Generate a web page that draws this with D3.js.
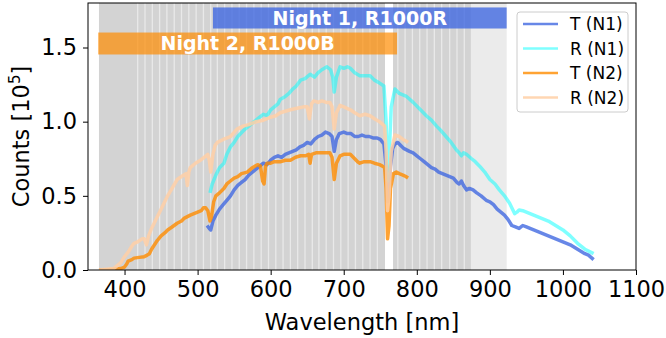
<!DOCTYPE html>
<html>
<head>
<meta charset="utf-8">
<script src="https://cdn.jsdelivr.net/npm/d3@7"></script>
<style>
  body { margin: 0; background: #fff; }
  svg { display: block; font-family: "DejaVu Sans", sans-serif; }
</style>
</head>
<body>
<div id="chart"></div>
<script>
// ---- data (wavelength in nm, counts in 1e5) ----
const xTicks = [400, 500, 600, 700, 800, 900, 1000, 1100];
const yTicks = [0.0, 0.5, 1.0, 1.5];

// wavelength coverage of the two nights
const nightRanges = [
  { label: 'Night 1, R1000R', lo: 521, hi: 923 },
  { label: 'Night 2, R1000B', lo: 364, hi: 773 }
];

// shaded spectroscopic bins
const coverSpans = [[365, 756.5], [767.5, 923]];
const binSpans = [[365, 756.5], [767.5, 874]];
const binEdges = [418, 428, 438, 448, 458, 468, 478, 488, 498, 508, 518, 527, 537, 547, 557, 567, 577,
  587, 597, 607, 617, 627, 637, 647, 657, 666, 676, 686, 696, 706, 716, 726, 736, 746,
  774, 784, 794, 804, 814, 824, 834, 845, 855, 865];

const t1Wave = [513, 516, 518, 521, 525, 530, 535, 540, 545, 550, 555, 560, 565, 570, 575, 580, 585, 590, 595,
  600, 605, 610, 615, 620, 625, 630, 635, 640, 645, 650, 655, 660, 665, 670, 675, 680, 684, 687, 690, 694,
  700, 705, 710, 715, 720, 725, 730, 735, 740, 745, 750, 755, 758, 760, 762, 764, 767, 770, 774, 778, 782,
  786, 790, 795, 800, 805, 810, 815, 820, 825, 830, 835, 840, 845, 850, 855, 858, 861, 864, 868, 872, 877,
  882, 888, 895, 900, 905, 910, 915, 920, 925, 930, 935, 940, 945, 950, 960, 970, 980, 990, 1000, 1010,
  1020, 1030, 1035, 1042];
const t1Counts = [0.30, 0.28, 0.27, 0.33, 0.37, 0.41, 0.44, 0.47, 0.50, 0.54, 0.57, 0.59, 0.61, 0.64, 0.66,
  0.68, 0.70, 0.72, 0.71, 0.74, 0.76, 0.77, 0.76, 0.78, 0.79, 0.80, 0.81, 0.83, 0.84, 0.86, 0.85, 0.88, 0.90,
  0.91, 0.93, 0.92, 0.90, 0.80, 0.88, 0.92, 0.93, 0.92, 0.92, 0.90, 0.90, 0.91, 0.90, 0.90, 0.89, 0.89, 0.88,
  0.85, 0.70, 0.46, 0.52, 0.70, 0.82, 0.85, 0.86, 0.84, 0.82, 0.81, 0.80, 0.79, 0.77, 0.75, 0.73, 0.71, 0.69,
  0.68, 0.66, 0.65, 0.64, 0.63, 0.62, 0.59, 0.58, 0.60, 0.57, 0.54, 0.55, 0.54, 0.52, 0.50, 0.47, 0.46, 0.44,
  0.41, 0.39, 0.37, 0.34, 0.30, 0.29, 0.28, 0.30, 0.29, 0.27, 0.25, 0.23, 0.21, 0.19, 0.17, 0.14, 0.11, 0.10,
  0.07];

const r1Wave = [517, 520, 525, 530, 536, 540, 545, 550, 555, 559, 565, 570, 575, 580, 585, 590, 595, 600, 605,
  610, 613, 620, 625, 630, 635, 641, 647, 654, 660, 665, 670, 677, 682, 685, 687, 690, 695, 700, 705, 709,
  715, 722, 728, 736, 742, 749, 755, 758, 760, 762, 765, 770, 776, 786, 795, 805, 813, 820, 827, 833, 840,
  847, 854, 858, 861, 864, 868, 875, 880, 886, 893, 900, 907, 913, 920, 927, 931, 934, 937, 940, 945, 950,
  960, 970, 980, 990, 1000, 1010, 1020, 1030, 1042];
const r1Counts = [0.52, 0.58, 0.64, 0.69, 0.72, 0.78, 0.83, 0.86, 0.90, 0.92, 0.95, 0.97, 0.99, 1.01, 1.03,
  1.05, 1.04, 1.08, 1.10, 1.12, 1.15, 1.17, 1.19, 1.22, 1.24, 1.28, 1.29, 1.32, 1.30, 1.33, 1.35, 1.37, 1.35,
  1.30, 1.20, 1.30, 1.37, 1.36, 1.37, 1.36, 1.33, 1.31, 1.31, 1.31, 1.28, 1.26, 1.24, 1.00, 0.60, 0.75, 1.10,
  1.22, 1.19, 1.17, 1.13, 1.08, 1.04, 1.01, 0.97, 0.94, 0.90, 0.86, 0.81, 0.79, 0.77, 0.79, 0.78, 0.75, 0.73,
  0.70, 0.66, 0.61, 0.58, 0.54, 0.50, 0.45, 0.41, 0.38, 0.39, 0.405, 0.40, 0.39, 0.37, 0.35, 0.33, 0.30, 0.27,
  0.23, 0.18, 0.14, 0.11];

const t2Wave = [365, 375, 385, 395, 400, 403, 405, 410, 413, 420, 427, 431, 434, 437, 441, 445, 450, 455, 459,
  465, 472, 478, 482, 486, 490, 495, 500, 505, 508, 511, 514, 517, 519, 522, 525, 530, 536, 540, 545, 550,
  555, 560, 568, 575, 582, 586, 589, 591, 593, 595, 600, 605, 613, 620, 627, 634, 641, 648, 652, 654, 656,
  662, 668, 675, 681, 684, 687, 690, 695, 700, 705, 709, 715, 719, 722, 728, 736, 742, 749, 753, 756, 758,
  760, 762, 764, 768, 772, 776, 781, 785, 788];
const t2Counts = [0.0, 0.0, 0.005, 0.01, 0.02, 0.04, 0.06, 0.07, 0.08, 0.085, 0.09, 0.10, 0.11, 0.14, 0.17,
  0.20, 0.23, 0.25, 0.27, 0.29, 0.315, 0.33, 0.35, 0.36, 0.37, 0.38, 0.39, 0.40, 0.42, 0.42, 0.40, 0.33, 0.36,
  0.46, 0.50, 0.52, 0.55, 0.58, 0.60, 0.62, 0.63, 0.65, 0.66, 0.69, 0.71, 0.70, 0.60, 0.58, 0.70, 0.72, 0.72,
  0.73, 0.73, 0.74, 0.74, 0.76, 0.77, 0.77, 0.78, 0.72, 0.78, 0.79, 0.79, 0.79, 0.79, 0.76, 0.61, 0.72, 0.77,
  0.78, 0.78, 0.78, 0.75, 0.73, 0.72, 0.73, 0.73, 0.72, 0.71, 0.70, 0.69, 0.55, 0.21, 0.30, 0.55, 0.65, 0.66,
  0.65, 0.64, 0.63, 0.62];

const r2Wave = [365, 375, 385, 390, 395, 400, 405, 410, 413, 418, 424, 427, 430, 433, 437, 441, 445, 450, 455,
  459, 465, 472, 478, 484, 486, 488, 490, 497, 504, 509, 514, 516, 518, 521, 524, 527, 535, 545, 554, 562,
  570, 580, 590, 600, 607, 613, 620, 627, 636, 645, 650, 653, 656, 659, 665, 670, 676, 681, 684, 687, 690,
  695, 700, 709, 715, 722, 729, 736, 742, 749, 756, 758, 760, 762, 765, 770, 776, 781, 785, 788];
const r2Counts = [0.0, 0.005, 0.01, 0.03, 0.05, 0.09, 0.12, 0.16, 0.18, 0.19, 0.21, 0.21, 0.17, 0.23, 0.28,
  0.32, 0.36, 0.41, 0.46, 0.50, 0.55, 0.61, 0.63, 0.65, 0.57, 0.66, 0.69, 0.72, 0.74, 0.76, 0.78, 0.74, 0.66,
  0.78, 0.84, 0.86, 0.88, 0.90, 0.95, 0.97, 0.98, 1.00, 1.01, 1.03, 1.04, 1.06, 1.07, 1.08, 1.09, 1.10, 1.10,
  1.02, 1.12, 1.14, 1.13, 1.14, 1.13, 1.13, 1.10, 0.95, 1.06, 1.11, 1.10, 1.08, 1.06, 1.04, 1.05, 1.04, 1.02,
  1.00, 0.97, 0.80, 0.40, 0.50, 0.80, 0.91, 0.90, 0.88, 0.87, 0.86];

const series = [
  { name: 'T (N1)', wave: t1Wave, counts: t1Counts, color: 'royalblue', opacity: 0.8 },
  { name: 'R (N1)', wave: r1Wave, counts: r1Counts, color: 'cyan', opacity: 0.5 },
  { name: 'T (N2)', wave: t2Wave, counts: t2Counts, color: 'darkorange', opacity: 0.8 },
  { name: 'R (N2)', wave: r2Wave, counts: r2Counts, color: '#ffcfa6', opacity: 0.85 }
];

// ---- layout ----
const W = 666, H = 338;
const margin = { top: 3, right: 30, bottom: 68, left: 88 };
const width = W - margin.left - margin.right;
const height = H - margin.top - margin.bottom;

const svg = d3.select('#chart').append('svg')
  .attr('width', W)
  .attr('height', H);
const g = svg.append('g')
  .attr('transform', 'translate(' + margin.left + ',' + margin.top + ')');

const x = d3.scaleLinear().domain([350, 1100]).range([0, width]);
const y = d3.scaleLinear().domain([0, 1.8]).range([height, 0]);

g.append('clipPath').attr('id', 'clip')
  .append('rect').attr('width', width).attr('height', height);

const plot = g.append('g').attr('clip-path', 'url(#clip)');

// shaded regions
plot.selectAll('rect.cover').data(coverSpans).enter().append('rect')
  .attr('class', 'cover')
  .attr('x', d => x(d[0])).attr('width', d => x(d[1]) - x(d[0]))
  .attr('y', 0).attr('height', height)
  .attr('fill', '#ebebeb');
plot.selectAll('rect.bin').data(binSpans).enter().append('rect')
  .attr('class', 'bin')
  .attr('x', d => x(d[0])).attr('width', d => x(d[1]) - x(d[0]))
  .attr('y', 0).attr('height', height)
  .attr('fill', '#d3d3d3');
plot.selectAll('line.edge').data(binEdges).enter().append('line')
  .attr('class', 'edge')
  .attr('x1', d => x(d)).attr('x2', d => x(d))
  .attr('y1', 0).attr('y2', height)
  .attr('stroke', '#e9e9e9').attr('stroke-width', 1.3);

// spectra
const line = d3.line().x(d => x(d[0])).y(d => y(d[1]));
series.forEach(s => {
  plot.append('path')
    .datum(d3.zip(s.wave, s.counts))
    .attr('d', line)
    .attr('fill', 'none')
    .attr('stroke', s.color)
    .attr('stroke-opacity', s.opacity)
    .attr('stroke-width', 3.5)
    .attr('stroke-linejoin', 'round');
});

// night labels
const boxes = [
  { night: nightRanges[0], top: 1.77, bottom: 1.628, color: 'royalblue', opacity: 0.8 },
  { night: nightRanges[1], top: 1.601, bottom: 1.453, color: 'darkorange', opacity: 0.7 }
];
boxes.forEach(b => {
  plot.append('rect')
    .attr('x', x(b.night.lo)).attr('width', x(b.night.hi) - x(b.night.lo))
    .attr('y', y(b.top)).attr('height', y(b.bottom) - y(b.top))
    .attr('fill', b.color).attr('fill-opacity', b.opacity);
  plot.append('text')
    .attr('x', (x(b.night.lo) + x(b.night.hi)) / 2)
    .attr('y', (y(b.top) + y(b.bottom)) / 2)
    .attr('dy', '0.36em')
    .attr('text-anchor', 'middle')
    .attr('font-size', 19).attr('font-weight', 'bold')
    .attr('fill', '#fff')
    .text(b.night.label);
});

// axes
const xAxis = g.append('g')
  .attr('transform', 'translate(0,' + height + ')')
  .call(d3.axisBottom(x).tickValues(xTicks).tickSize(5).tickPadding(6).tickFormat(d3.format('d')));
const yAxis = g.append('g')
  .call(d3.axisLeft(y).tickValues(yTicks).tickSize(5).tickPadding(6).tickFormat(d3.format('.1f')));
[xAxis, yAxis].forEach(a => {
  a.select('.domain').remove();
  a.selectAll('text').attr('font-size', 22.5).attr('font-family', '"DejaVu Sans", sans-serif').attr('fill', '#000');
  a.selectAll('line').attr('stroke', '#000');
});

g.append('rect')
  .attr('width', width).attr('height', height)
  .attr('fill', 'none').attr('stroke', '#000').attr('stroke-width', 1);

// axis labels
svg.append('text')
  .attr('x', margin.left + width / 2).attr('y', 330)
  .attr('text-anchor', 'middle').attr('font-size', 22.5)
  .text('Wavelength [nm]');
const yl = svg.append('text')
  .attr('transform', 'translate(29,' + (margin.top + height / 2) + ') rotate(-90)')
  .attr('text-anchor', 'middle').attr('font-size', 22.5);
yl.append('tspan').text('Counts [10');
yl.append('tspan').attr('font-size', 15).attr('dy', -9).text('5');
yl.append('tspan').attr('dy', 9).text(']');

// legend
const legend = svg.append('g').attr('transform', 'translate(517,12)');
legend.append('rect')
  .attr('width', 111).attr('height', 100).attr('rx', 3)
  .attr('fill', '#fff').attr('fill-opacity', 0.8)
  .attr('stroke', '#cccccc');
series.forEach((s, i) => {
  const row = legend.append('g').attr('transform', 'translate(0,' + (12 + i * 24.5) + ')');
  row.append('line')
    .attr('x1', 6).attr('x2', 41)
    .attr('stroke', s.color).attr('stroke-opacity', s.opacity).attr('stroke-width', 2.5);
  row.append('text')
    .attr('x', 53).attr('dy', '0.36em')
    .attr('font-size', 17)
    .text(s.name);
});
</script>
</body>
</html>
